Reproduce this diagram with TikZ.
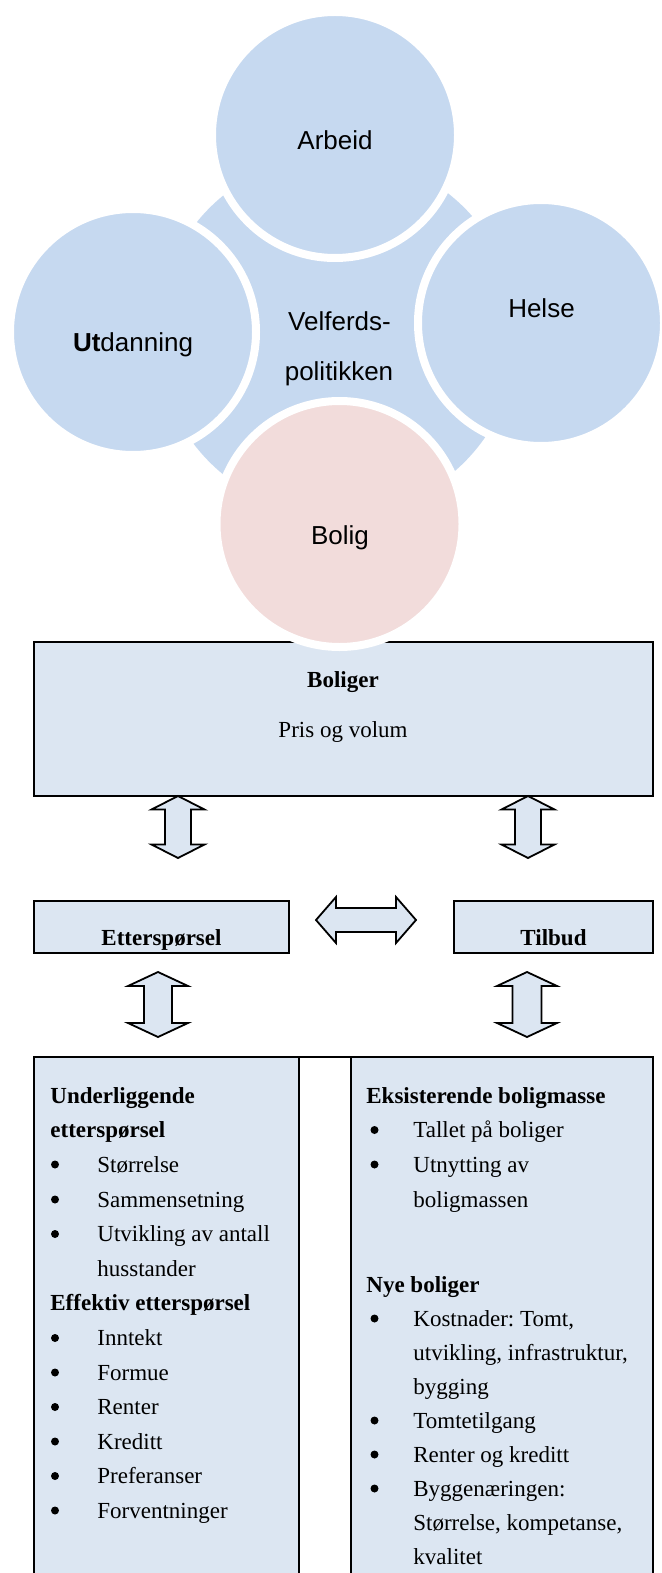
\documentclass[tikz,border=0pt]{standalone}
\usepackage{fontspec}
\setmainfont{Liberation Serif}
\newfontfamily\arialf{Liberation Sans}
\frenchspacing
\definecolor{satblue}{HTML}{C6D9F0}
\definecolor{satpink}{HTML}{F2DCDB}
\definecolor{boxblue}{HTML}{DCE6F2}
\newcommand{\vdarrow}[6]{% x, ytop, ybot, headhalf, shafthalf, headlen
  \draw[barrow] (#1,#2) -- ({#1+#4},{#2+#6}) -- ({#1+#5},{#2+#6}) -- ({#1+#5},{#3-#6})
    -- ({#1+#4},{#3-#6}) -- (#1,#3) -- ({#1-#4},{#3-#6}) -- ({#1-#5},{#3-#6})
    -- ({#1-#5},{#2+#6}) -- ({#1-#4},{#2+#6}) -- cycle;}
\newcommand{\hdarrow}[6]{% y, xleft, xright, headhalf, shafthalf, headlen
  \draw[barrow] (#2,#1) -- ({#2+#6},{#1-#4}) -- ({#2+#6},{#1-#5}) -- ({#3-#6},{#1-#5})
    -- ({#3-#6},{#1-#4}) -- (#3,#1) -- ({#3-#6},{#1+#4}) -- ({#3-#6},{#1+#5})
    -- ({#2+#6},{#1+#5}) -- ({#2+#6},{#1+#4}) -- cycle;}
\begin{document}
\begin{tikzpicture}[x=0.5pt,y=-0.5pt,
  sat/.style={circle, draw=white, line width=4pt, fill=satblue, minimum size=123pt, inner sep=0pt},
  smtext/.style={font=\arialf\fontsize{13}{15}\selectfont, anchor=base, inner sep=0pt},
  boxst/.style={rectangle, draw=black, line width=1.25pt, fill=boxblue, inner sep=0pt},
  sertext/.style={font=\fontsize{11.5}{13}\selectfont, anchor=base, inner sep=0pt},
  ltext/.style={sertext, anchor=base west},
  bulletdot/.style={fill=black},
  barrow/.style={draw=black, line width=0.9pt, fill=boxblue, line join=miter},
  tline/.style={draw=black, line width=1.2pt}]
\useasboundingbox (0,0) rectangle (662,1573);
\clip (0,0) rectangle (662,1573);
% --- radial diagram ---
\node[circle, fill=satblue, minimum size=180pt, inner sep=0pt] (disk) at (337,335) {};
\node[sat] (arbeid) at (335,135) {};
\node[sat] (utd) at (133,332) {};
\node[sat] (helse) at (541,323) {};
\node[smtext] (tarbeid) at (335,150) {Arbeid};
\node[smtext] (tutd) at (133,351) {\textbf{Ut}danning};
\node[smtext] (thelse) at (541.5,317.5) {Helse};
\node[smtext] (tvel1) at (339.5,330.5) {Velferds-};
\node[smtext] (tvel2) at (339,380) {politikken};
% --- Boliger box ---
\node[boxst, minimum width=309.5pt, minimum height=77pt] (boliger) at (343.5,719) {};
\node[sat, fill=satpink] (bolig) at (339.5,524) {};
\node[smtext] (tbolig) at (340,544) {Bolig};
\node[sertext] (tboliger) at (343,687) {\textbf{Boliger}};
\node[sertext] (tpris) at (343,737) {Pris og volum};
% --- middle boxes ---
\node[boxst, minimum width=127.5pt, minimum height=26pt] (ett) at (161.5,927) {};
\node[boxst, minimum width=99.5pt, minimum height=26pt] (tilbud) at (553.5,927) {};
\node[sertext] (tett) at (161.5,945) {\textbf{Etterspørsel}};
\node[sertext] (ttil) at (553.5,945) {\textbf{Tilbud}};
% --- block arrows ---
\vdarrow{178}{796}{858}{26.5}{13}{13.5}
\vdarrow{528}{796}{858}{26.5}{13}{13.5}
\hdarrow{920}{316}{416}{23}{12}{20}
\vdarrow{158}{972}{1037}{30}{14}{14}
\vdarrow{527}{972}{1037}{30}{14.5}{14}
% --- bottom table ---
\fill[boxblue] (34,1057) rectangle (299,1580);
\fill[boxblue] (351,1057) rectangle (653,1580);
\draw[tline] (34,1580) -- (34,1057) -- (653,1057) -- (653,1580);
\draw[tline] (299,1057) -- (299,1580);
\draw[tline] (351,1057) -- (351,1580);
% left column
\node[ltext] (l1) at (50,1103) {\textbf{Underliggende}};
\node[ltext] (l2) at (50,1137.5) {\textbf{etterspørsel}};
\node[ltext] (l3) at (97,1172) {Størrelse};
\node[ltext] (l4) at (97,1207) {Sammensetning};
\node[ltext] (l5) at (97,1241.5) {Utvikling av antall};
\node[ltext] (l6) at (97,1276) {husstander};
\node[ltext] (l7) at (50,1310.5) {\textbf{Effektiv etterspørsel}};
\node[ltext] (l8) at (97,1345.5) {Inntekt};
\node[ltext] (l9) at (97,1380) {Formue};
\node[ltext] (l10) at (97,1414.5) {Renter};
\node[ltext] (l11) at (97,1449) {Kreditt};
\node[ltext] (l12) at (97,1483.5) {Preferanser};
\node[ltext] (l13) at (97,1518) {Forventninger};
\foreach \yy in {1172,1207,1241.5,1345.5,1380,1414.5,1449,1483.5,1518}
  \fill[bulletdot] (55,\yy-7.5) circle[radius=2pt];
% right column
\node[ltext] (r1) at (366,1103) {\textbf{Eksisterende boligmasse}};
\node[ltext] (r2) at (413,1137.5) {Tallet på boliger};
\node[ltext] (r3) at (413,1172) {Utnytting av};
\node[ltext] (r4) at (413,1207) {boligmassen};
\node[ltext] (r5) at (366,1292) {\textbf{Nye boliger}};
\node[ltext] (r6) at (413,1326) {Kostnader: Tomt,};
\node[ltext] (r7) at (413,1360) {utvikling, infrastruktur,};
\node[ltext] (r8) at (413,1394) {bygging};
\node[ltext] (r9) at (413,1428) {Tomtetilgang};
\node[ltext] (r10) at (413,1462) {Renter og kreditt};
\node[ltext] (r11) at (413,1496) {Byggenæringen:};
\node[ltext] (r12) at (413,1530) {Størrelse, kompetanse,};
\node[ltext] (r13) at (413,1564) {kvalitet};
\foreach \yy in {1137.5,1172,1326,1428,1462,1496}
  \fill[bulletdot] (374.5,\yy-7.5) circle[radius=2pt];
\end{tikzpicture}
\end{document}
